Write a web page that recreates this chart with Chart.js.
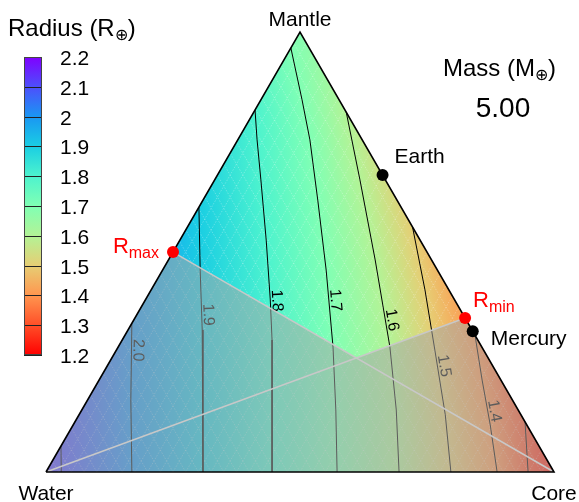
<!DOCTYPE html>
<html>
<head>
<meta charset="utf-8">
<script src="https://cdn.jsdelivr.net/npm/chart.js@4.4.1/dist/chart.umd.min.js"></script>
<style>
html, body { margin: 0; padding: 0; background: #fff; }
#wrap { width: 579px; height: 502px; }
</style>
</head>
<body>
<div id="wrap"><canvas id="ternary" width="579" height="502"></canvas></div>
<script>
// ternary corners: water (bottom left), mantle (top), core (bottom right)
const cornerNames = ['Water', 'Mantle', 'Core'];
const cornerRadius = [2.12, 1.69, 1.23];

// radius contours, each point is [core fraction, mantle fraction]
const contourLevels = [2.1, 2.0, 1.9, 1.8, 1.7, 1.6, 1.5, 1.4, 1.3];
const contour21 = [[0, 0.059], [0.03, 0]];
const contour20 = [[0, 0.338], [0.085, 0.164], [0.169, 0]];
const contour19 = [[0, 0.602], [0.074, 0.459], [0.146, 0.323], [0.227, 0.164], [0.309, 0]];
const contour18 = [[0, 0.823], [0.038, 0.755], [0.091, 0.664], [0.17, 0.527], [0.246, 0.391], [0.295, 0.3], [0.445, 0]];
const contour17 = [[0, 0.964], [0.081, 0.846], [0.142, 0.755], [0.226, 0.618], [0.322, 0.459], [0.423, 0.284], [0.50, 0.141], [0.573, 0]];
const contour16 = [[0.182, 0.818], [0.286, 0.664], [0.407, 0.482], [0.535, 0.284], [0.619, 0.141], [0.695, 0]];
const contour15 = [[0.443, 0.557], [0.539, 0.414], [0.627, 0.277], [0.721, 0.13], [0.797, 0]];
const contour14 = [[0.689, 0.311], [0.754, 0.209], [0.821, 0.107], [0.888, 0]];
const contour13 = [[0.886, 0.114], [0.949, 0]];
const contourLines = [contour21, contour20, contour19, contour18, contour17, contour16, contour15, contour14, contour13];
// mantle fraction where each contour label sits (null = no label)
const contourLabelMantle = [null, 0.277, 0.357, 0.389, 0.389, 0.343, 0.239, 0.136, null];

// planets
const planetNames = ['Earth', 'Mercury'];
const planetCore = [0.325, 0.68];
const planetMantle = [0.675, 0.32];

// radius limits
const limitNames = ['max', 'min'];
const limitCore = [0, 0.65];
const limitMantle = [0.5, 0.35];

// colour bar
const colorTicks = [2.2, 2.1, 2.0, 1.9, 1.8, 1.7, 1.6, 1.5, 1.4, 1.3, 1.2];
const colorTickLabels = ['2.2', '2.1', '2', '1.9', '1.8', '1.7', '1.6', '1.5', '1.4', '1.3', '1.2'];
const colorHex = ['#8000ff', '#4d4ffc', '#1a96f3', '#1acee3', '#4df3ce', '#80ffb4', '#b3f396', '#e6ce74', '#ff964f', '#ff4f28', '#ff0000'];

const massValue = '5.00';

const FONT = "'Liberation Sans', Arial, Helvetica, sans-serif";
const H = Math.sqrt(3) / 2;
const tern = (core, mantle) => ({ x: core + mantle / 2, y: mantle * H });

const colorRgb = colorHex.map(h => [1, 3, 5].map(i => parseInt(h.substr(i, 2), 16)));
function colorAt(r) {
    if (r >= colorTicks[0]) return 'rgb(' + colorRgb[0].join(',') + ')';
    for (let i = 0; i < colorTicks.length - 1; i++) {
        const a = colorTicks[i], b = colorTicks[i + 1];
        if (r <= a && r >= b) {
            const t = (a - r) / (a - b);
            const c = colorRgb[i].map((v, k) => Math.round(v + (colorRgb[i + 1][k] - v) * t));
            return 'rgb(' + c.join(',') + ')';
        }
    }
    return 'rgb(' + colorRgb[colorRgb.length - 1].join(',') + ')';
}

// radius along the two side edges, from the contour end points
const leftProfile = [[0, cornerRadius[0]], [1, cornerRadius[1]]];
const rightProfile = [[0, cornerRadius[2]], [1, cornerRadius[1]]];
contourLines.forEach((line, i) => {
    const c = line[0][0], m = line[0][1];
    if (c < 0.005) leftProfile.push([m, contourLevels[i]]);
    else if (1 - c - m < 0.005) rightProfile.push([m, contourLevels[i]]);
});
leftProfile.sort((a, b) => a[0] - b[0]);
rightProfile.sort((a, b) => a[0] - b[0]);

function profileAt(prof, m) {
    for (let i = 0; i < prof.length - 1; i++) {
        if (m >= prof[i][0] && m <= prof[i + 1][0]) {
            const t = (m - prof[i][0]) / (prof[i + 1][0] - prof[i][0] || 1);
            return prof[i][1] + (prof[i + 1][1] - prof[i][1]) * t;
        }
    }
    return prof[prof.length - 1][1];
}

function crossAt(pts, v) {
    for (let j = 0; j < pts.length - 1; j++) {
        const a = pts[j], b = pts[j + 1];
        if ((v <= a.y && v >= b.y) || (v >= a.y && v <= b.y)) {
            const t = (v - a.y) / ((b.y - a.y) || 1);
            return a.x + (b.x - a.x) * t;
        }
    }
    return null;
}

function trianglePath(ctx, xs, ys) {
    const w = tern(0, 0), m = tern(0, 1), c = tern(1, 0);
    ctx.beginPath();
    ctx.moveTo(xs.getPixelForValue(w.x), ys.getPixelForValue(w.y));
    ctx.lineTo(xs.getPixelForValue(m.x), ys.getPixelForValue(m.y));
    ctx.lineTo(xs.getPixelForValue(c.x), ys.getPixelForValue(c.y));
    ctx.closePath();
}

// colour field + hatch, drawn under everything
const fieldPlugin = {
    id: 'field',
    beforeDatasetsDraw(chart) {
        const ctx = chart.ctx, xs = chart.scales.x, ys = chart.scales.y;
        const polys = contourLines.map(line => line.map(p => tern(p[0], p[1])));
        const top = Math.floor(ys.getPixelForValue(H)) - 1;
        const bottom = Math.ceil(ys.getPixelForValue(0)) + 1;
        ctx.save();
        trianglePath(ctx, xs, ys);
        ctx.clip();
        for (let py = top; py <= bottom; py++) {
            const v = ys.getValueForPixel(py + 0.5);
            const m = Math.min(1, Math.max(0, v / H));
            const uL = m / 2, uR = 1 - m / 2;
            let stops = [[uL, profileAt(leftProfile, m)], [uR, profileAt(rightProfile, m)]];
            polys.forEach((pl, i) => {
                const u = crossAt(pl, m * H);
                if (u !== null) stops.push([u, contourLevels[i]]);
            });
            stops.sort((a, b) => a[0] - b[0]);
            // extra stops where the colour map bends
            const full = [];
            for (let i = 0; i < stops.length; i++) {
                full.push(stops[i]);
                if (i < stops.length - 1) {
                    const [u0, r0] = stops[i], [u1, r1] = stops[i + 1];
                    colorTicks.forEach(k => {
                        if ((k - r0) * (k - r1) < 0) full.push([u0 + (k - r0) / (r1 - r0) * (u1 - u0), k]);
                    });
                }
            }
            full.sort((a, b) => a[0] - b[0]);
            const xL = xs.getPixelForValue(uL), xR = xs.getPixelForValue(uR);
            if (xR - xL < 1) {
                ctx.fillStyle = colorAt(cornerRadius[1]);
            } else {
                const g = ctx.createLinearGradient(xL, 0, xR, 0);
                full.forEach(s => {
                    const t = Math.min(1, Math.max(0, (xs.getPixelForValue(s[0]) - xL) / (xR - xL)));
                    g.addColorStop(t, colorAt(s[1]));
                });
                ctx.fillStyle = g;
            }
            ctx.fillRect(xL - 3, py, xR - xL + 6, 1);
        }
        // diamond hatch
        ctx.strokeStyle = 'rgba(255,255,255,0.35)';
        ctx.lineWidth = 0.8;
        ctx.setLineDash([1.5, 1.5]);
        const seg = (p, q) => {
            ctx.beginPath();
            ctx.moveTo(xs.getPixelForValue(p.x), ys.getPixelForValue(p.y));
            ctx.lineTo(xs.getPixelForValue(q.x), ys.getPixelForValue(q.y));
            ctx.stroke();
        };
        for (let k = 1; k < 40; k++) {
            const f = k / 40;
            seg(tern(f, 0), tern(f, 1 - f));
            seg(tern(1 - f, 0), tern(0, 1 - f));
        }
        ctx.restore();
    }
};

// rotated labels on the contour lines
const contourLabelPlugin = {
    id: 'contourLabels',
    afterDatasetDraw(chart, args) {
        const ds = chart.data.datasets[args.index];
        if (ds.levelIdx === undefined) return;
        const mL = contourLabelMantle[ds.levelIdx];
        if (mL === null) return;
        const ys = chart.scales.y;
        const target = ys.getPixelForValue(mL * H);
        const pts = args.meta.data;
        for (let j = 0; j < pts.length - 1; j++) {
            const a = pts[j], b = pts[j + 1];
            if (target >= a.y && target <= b.y) {
                const t = (target - a.y) / ((b.y - a.y) || 1);
                const px = a.x + (b.x - a.x) * t;
                const ang = Math.atan2(b.y - a.y, b.x - a.x);
                const ctx = chart.ctx;
                ctx.save();
                ctx.translate(px, target);
                ctx.rotate(ang);
                ctx.font = '16px ' + FONT;
                ctx.fillStyle = '#000';
                ctx.textAlign = 'center';
                ctx.textBaseline = 'alphabetic';
                ctx.fillText(contourLevels[ds.levelIdx].toFixed(1), 0, -2);
                ctx.restore();
                break;
            }
        }
    }
};

function drawParts(ctx, parts, x, y, align) {
    // parts: [text, size, dy]
    let total = 0;
    parts.forEach(p => { ctx.font = p[1] + 'px ' + FONT; total += ctx.measureText(p[0]).width; });
    let cx = align === 'right' ? x - total : align === 'center' ? x - total / 2 : x;
    ctx.textAlign = 'left';
    ctx.textBaseline = 'alphabetic';
    parts.forEach(p => {
        ctx.font = p[1] + 'px ' + FONT;
        ctx.fillText(p[0], cx, y + p[2]);
        cx += ctx.measureText(p[0]).width;
    });
}

const textPlugin = {
    id: 'texts',
    afterDraw(chart) {
        const ctx = chart.ctx, xs = chart.scales.x, ys = chart.scales.y;
        ctx.save();
        ctx.fillStyle = '#000';
        // corner names
        const corners = [tern(0, 0), tern(0, 1), tern(1, 0)];
        corners.forEach((c, i) => {
            const px = xs.getPixelForValue(c.x), py = ys.getPixelForValue(c.y);
            const cy = i === 1 ? py - 14 : py + 20;
            drawParts(ctx, [[cornerNames[i], 21, 0]], px, cy + 8, 'center');
        });
        // planet labels
        const pm = chart.getDatasetMeta(0).data;
        drawParts(ctx, [[planetNames[0], 21, 0]], pm[0].x + 12, pm[0].y - 12, 'left');
        drawParts(ctx, [[planetNames[1], 21, 0]], pm[1].x + 18, pm[1].y + 14, 'left');
        // limit labels
        ctx.fillStyle = '#ff0000';
        const lm = chart.getDatasetMeta(1).data;
        drawParts(ctx, [['R', 22, 0], [limitNames[0], 16, 5]], lm[0].x - 14, lm[0].y + 1, 'right');
        drawParts(ctx, [['R', 22, 0], [limitNames[1], 16, 5]], lm[1].x + 8, lm[1].y - 11, 'left');
        // mass
        ctx.fillStyle = '#000';
        drawParts(ctx, [['Mass (M', 24, 0], ['\u2295', 16, 4], [')', 24, 0]], 443, 76, 'left');
        drawParts(ctx, [[massValue, 28, 0]], 503, 117, 'center');
        // colour bar
        const bx = 24, bw = 18, bt = 57, bb = 355;
        const g = ctx.createLinearGradient(0, bt, 0, bb);
        colorTicks.forEach((v, i) => g.addColorStop(i / (colorTicks.length - 1), colorHex[i]));
        ctx.fillStyle = g;
        ctx.fillRect(bx, bt, bw, bb - bt);
        ctx.strokeStyle = '#222';
        ctx.lineWidth = 1;
        colorTicks.forEach((v, i) => {
            const ty = Math.round(bt + (bb - bt) * i / (colorTicks.length - 1)) + 0.5;
            ctx.beginPath(); ctx.moveTo(bx, ty); ctx.lineTo(bx + bw, ty); ctx.stroke();
            ctx.fillStyle = '#000';
            drawParts(ctx, [[colorTickLabels[i], 21, 0]], 60, ty + 7.5, 'left');
        });
        ctx.strokeStyle = '#444';
        ctx.strokeRect(bx + 0.5, bt + 0.5, bw - 1, bb - bt - 1);
        ctx.fillStyle = '#000';
        drawParts(ctx, [['Radius (R', 24, 0], ['\u2295', 16, 4], [')', 24, 0]], 8, 36, 'left');
        ctx.restore();
    }
};

// datasets
const planetPts = planetNames.map((n, i) => tern(planetCore[i], planetMantle[i]));
const limitPts = limitNames.map((n, i) => tern(limitCore[i], limitMantle[i]));
const W = tern(0, 0), M = tern(0, 1), C = tern(1, 0);
// where the two limit lines cross
const rA = limitPts[0], rB = limitPts[1];
const tX = 1 / (rB.x + rB.y * (1 - rA.x) / rA.y);
const V = { x: tX * rB.x, y: tX * rB.y };

const datasets = [
    { data: planetPts, pointRadius: 6, pointBackgroundColor: '#000', pointBorderWidth: 0, order: 0 },
    { data: limitPts, pointRadius: 6, pointBackgroundColor: '#ff0000', pointBorderWidth: 0, order: 0 },
    { data: [W, M, C, W], showLine: true, borderColor: '#000', borderWidth: 1.6, pointRadius: 0, order: 1, clip: false },
    { data: [limitPts[0], C], showLine: true, borderColor: '#c8c8c8', borderWidth: 1.5, pointRadius: 0, order: 2 },
    { data: [W, limitPts[1]], showLine: true, borderColor: '#c8c8c8', borderWidth: 1.5, pointRadius: 0, order: 2 },
    { data: [limitPts[0], V, limitPts[1], C, W, limitPts[0]], showLine: true, fill: 'shape',
      backgroundColor: 'rgba(165,165,165,0.55)', borderWidth: 0, borderColor: 'rgba(0,0,0,0)', pointRadius: 0, order: 3 }
];
contourLines.forEach((line, i) => {
    datasets.push({
        data: line.map(p => tern(p[0], p[1])),
        showLine: true, borderColor: '#000', borderWidth: 1, pointRadius: 0,
        order: 4, levelIdx: i
    });
});

new Chart(document.getElementById('ternary'), {
    type: 'scatter',
    data: { datasets: datasets },
    options: {
        responsive: false,
        animation: false,
        devicePixelRatio: 1,
        events: [],
        layout: { padding: 0, autoPadding: false },
        scales: {
            x: { type: 'linear', min: -46 / 508, max: 533 / 508, display: false },
            y: { type: 'linear', min: -30 / 508, max: 472 / 508, display: false }
        },
        plugins: {
            legend: { display: false },
            tooltip: { enabled: false }
        }
    },
    plugins: [fieldPlugin, contourLabelPlugin, textPlugin]
});
</script>
</body>
</html>
